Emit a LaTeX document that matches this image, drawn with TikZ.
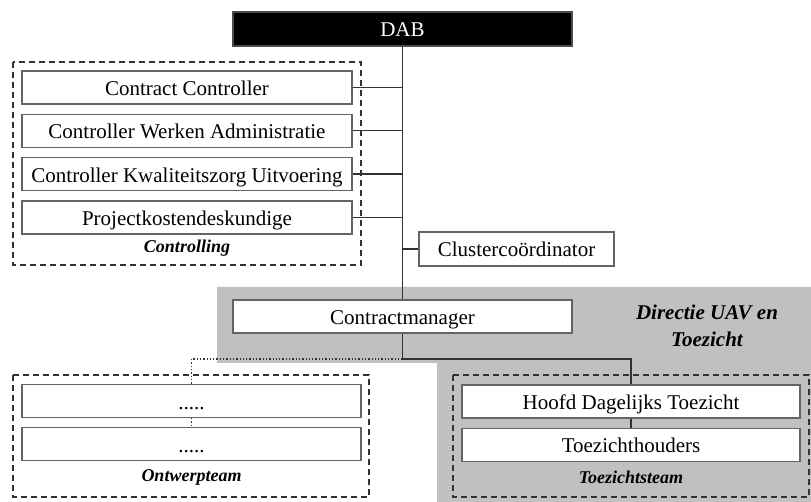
\documentclass[tikz,border=0pt]{standalone}
\usepackage{fontspec}
\setmainfont{Liberation Serif}
\usepackage{tikz}
\usetikzlibrary{positioning, backgrounds}
\definecolor{boxgray}{RGB}{100, 100, 100}
\definecolor{zonegray}{RGB}{192, 192, 192}
\definecolor{linegray}{RGB}{50, 50, 50}

\begin{document}
\begin{tikzpicture}[
    x=1pt, y=-1pt,
    unit/.style={rectangle, draw=boxgray, line width=1.3pt, fill=white, minimum width=330pt, minimum height=33pt, inner sep=0pt, text height=16pt, text depth=0pt, font=\fontsize{21}{24}\selectfont},
    group/.style={draw=linegray, line width=1.3pt, dash pattern=on 6pt off 4pt},
    grouplabel/.style={font=\fontsize{18}{21}\selectfont\bfseries\itshape},
    link/.style={draw=linegray, line width=1.4pt}
]
    \useasboundingbox (0,0) rectangle (811,502);

    % Directie zone
    \begin{scope}[on background layer]
    \fill[zonegray] (217,287) -- (811,287) -- (811,502) -- (437,502) -- (437,363) -- (217,363) -- cycle;
    \end{scope}
    \node[grouplabel, font=\fontsize{21}{27}\selectfont\bfseries\itshape, align=center] (directie) at (707,326) {Directie UAV en\\Toezicht};

    % Top
    \node[unit, fill=black, draw=black!70, text=white, minimum width=339pt, minimum height=34pt] (dab) at (402.5,29) {DAB};

    % Controlling
    \draw[group] (13,62) rectangle (361,265);
    \node[unit] (cc) at (187,87.5) {Contract Controller};
    \node[unit, below=9pt of cc] (cwa) {Controller Werken Administratie};
    \node[unit, below=9pt of cwa] (cku) {Controller Kwaliteitszorg Uitvoering};
    \node[unit, below=9pt of cku] (pkd) {Projectkostendeskundige};
    \node[grouplabel] (controlling) at (187,248) {Controlling};

    % Cluster and contract management
    \node[unit, minimum width=195pt, minimum height=34pt] (cluster) at (516.5,249) {Clustercoördinator};
    \node[unit, minimum width=339pt] (cm) at (402.5,316.5) {Contractmanager};
    \coordinate (split) at (402.5,359);

    % Ontwerpteam
    \draw[group] (13,375) rectangle (369,497);
    \node[unit, minimum width=339pt] (ow1) at (191.5,401) {.....};
    \node[unit, minimum width=339pt, below=9pt of ow1] (ow2) {.....};
    \node[grouplabel] (ontwerp) at (191.5,477) {Ontwerpteam};

    % Toezichtsteam
    \draw[group] (453,375) rectangle (809,497);
    \node[unit, minimum width=338pt] (hdt) at (631,401.5) {Hoofd Dagelijks Toezicht};
    \node[unit, minimum width=338pt, below=9pt of hdt] (th) {Toezichthouders};
    \node[grouplabel] (toezicht) at (631,477) {Toezichtsteam};

    % Lines
    \begin{scope}[on background layer]
    \draw[link] (dab.south) -- (cm.north);
    \draw[link] (cc.east) -- (cc.east -| dab.south);
    \draw[link] (cwa.east) -- (cwa.east -| dab.south);
    \draw[link] (cku.east) -- (cku.east -| dab.south);
    \draw[link] (pkd.east) -- (pkd.east -| dab.south);
    \draw[link] (cluster.west) -- (cluster.west -| dab.south);
    \end{scope}
    \draw[link] (cm.south) -- (split) -| (hdt.north);
    \draw[link] (hdt.south) -- (th.north);
    \draw[linegray, line width=1.3pt, dotted] (split) -| (ow1.north);
    \draw[linegray, line width=1.3pt, dotted] (ow1.south) -- (ow2.north);

\end{tikzpicture}
\end{document}
